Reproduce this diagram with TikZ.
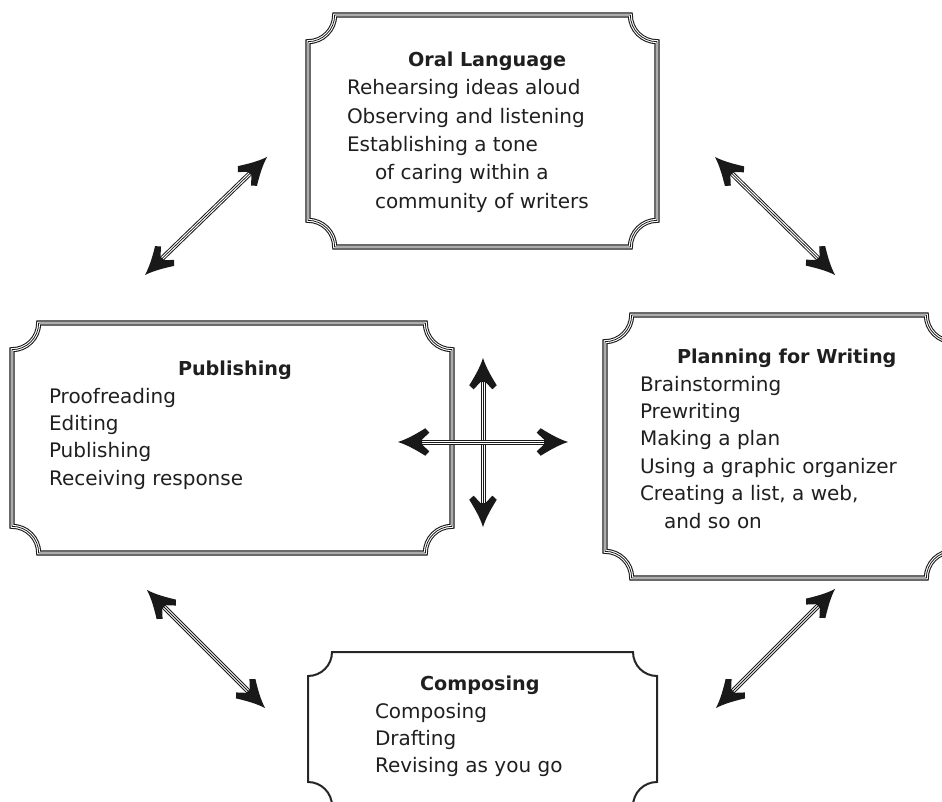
\documentclass[tikz,border=0pt]{standalone}
\usepackage{fontspec}
\setmainfont{DejaVu Sans}
\usetikzlibrary{fit}

\pgfdeclarearrow{
  name = Barbed,
  setup code = {
    \pgfarrowssettipend{0pt}
    \pgfarrowssetlineend{-16pt}
    \pgfarrowssetbackend{-23.5pt}
    \pgfarrowshullpoint{0pt}{0pt}
    \pgfarrowsupperhullpoint{-20.5pt}{10.3pt}
    \pgfarrowsupperhullpoint{-23.5pt}{7pt}
  },
  drawing code = {
    \pgfpathmoveto{\pgfpoint{0pt}{0pt}}
    \pgfpathcurveto{\pgfpoint{-7.5pt}{2.4pt}}{\pgfpoint{-14.5pt}{6.6pt}}{\pgfpoint{-20.5pt}{10.3pt}}
    \pgfpathlineto{\pgfpoint{-23.5pt}{7pt}}
    \pgfpathlineto{\pgfpoint{-18pt}{1.9pt}}
    \pgfpathlineto{\pgfpoint{-18pt}{-1.9pt}}
    \pgfpathlineto{\pgfpoint{-23.5pt}{-7pt}}
    \pgfpathlineto{\pgfpoint{-20.5pt}{-10.3pt}}
    \pgfpathcurveto{\pgfpoint{-14.5pt}{-6.6pt}}{\pgfpoint{-7.5pt}{-2.4pt}}{\pgfpoint{0pt}{0pt}}
    \pgfpathclose
    \pgfusepathqfill
  }
}

\newcommand\myframe[3]{%
  \path[#1] ([xshift=#3]#2.north west) -- ([xshift=-#3]#2.north east)
    arc[start angle=180,end angle=270,radius=#3]
    -- ([yshift=#3]#2.south east)
    arc[start angle=90,end angle=180,radius=#3]
    -- ([xshift=#3]#2.south west)
    arc[start angle=0,end angle=90,radius=#3]
    -- ([yshift=-#3]#2.north west)
    arc[start angle=270,end angle=360,radius=#3] -- cycle;}

\tikzset{
  boxarea/.style={rectangle, inner sep=0pt, outer sep=0pt, draw=none},
  outerrule/.style={draw=black!90, line width=0.8pt, double=white, double distance=2.2pt},
  innerrule/.style={draw=black!90, line width=0.6pt},
  plainrule/.style={draw=black!85, line width=1.5pt},
  shaft/.style={draw=black!90, fill=black!90, line width=0.75pt, double=white, double distance=2.25pt, arrows={Barbed-Barbed}},
  shaftcore/.style={draw=black!90, line width=0.55pt, shorten <=16pt, shorten >=16pt},
  bodytext/.style={anchor=base west, inner sep=0pt, outer sep=0pt, text=black!88, font=\fontsize{15}{#1}\selectfont},
  bodytext/.default=20.6pt,
  titletext/.style={anchor=base west, inner sep=0pt, outer sep=0pt, text=black!88, font=\fontsize{14.4}{20.6}\selectfont\bfseries},
}

\begin{document}
\begin{tikzpicture}[x=0.75pt, y=-0.75pt]
\useasboundingbox (0,0) rectangle (942,802);

% box areas
\node[boxarea, fit={(308,15) (657,247)}] (oral) {};
\node[boxarea, fit={(12,323) (452,553)}] (pub) {};
\node[boxarea, fit={(605,315) (953,578)}] (plan) {};
\node[boxarea, fit={(308,652) (657,806)}] (comp) {};

% frames
\myframe{outerrule}{oral}{20pt}
\myframe{innerrule}{oral}{20pt}
\myframe{outerrule}{pub}{20pt}
\myframe{innerrule}{pub}{20pt}
\myframe{outerrule}{plan}{20pt}
\myframe{innerrule}{plan}{20pt}
\myframe{plainrule}{comp}{18pt}

% texts
\node[titletext] (oralT) at (408,67) {Oral Language};
\node[bodytext=21.2pt] (oralB) at (347,95) {\begin{tabular}[t]{@{}l@{}}Rehearsing ideas aloud\\Observing and listening\\Establishing a tone\\\hspace*{1.4em}of caring within a\\\hspace*{1.4em}community of writers\end{tabular}};

\node[titletext] (pubT) at (178,375) {Publishing};
\node[bodytext] (pubB) at (49,403) {\begin{tabular}[t]{@{}l@{}}Proofreading\\Editing\\Publishing\\Receiving response\end{tabular}};

\node[titletext] (planT) at (677,363) {Planning for Writing};
\node[bodytext] (planB) at (640,391) {\begin{tabular}[t]{@{}l@{}}Brainstorming\\Prewriting\\Making a plan\\Using a graphic organizer\\Creating a list, a web,\\\hspace*{1.2em}and so on\end{tabular}};

\node[titletext] (compT) at (420,690) {Composing};
\node[bodytext] (compB) at (375,718) {\begin{tabular}[t]{@{}l@{}}Composing\\Drafting\\Revising as you go\end{tabular}};

% arrow end points
\coordinate (tlA) at (145,275);
\coordinate (tlB) at (267,157);
\coordinate (trA) at (715,157);
\coordinate (trB) at (835,275);
\coordinate (blA) at (147,590);
\coordinate (blB) at (265,708);
\coordinate (brA) at (835,589);
\coordinate (brB) at (716,708);
\coordinate (vA) at (483,358);
\coordinate (vB) at (483,527);
\coordinate (hA) at (398,442);
\coordinate (hB) at (568,442);

\foreach \a/\b in {tlA/tlB, trA/trB, blA/blB, brA/brB, vA/vB, hA/hB}{
  \draw[shaft] (\a) -- (\b);
  \draw[shaftcore] (\a) -- (\b);
}
\end{tikzpicture}
\end{document}
